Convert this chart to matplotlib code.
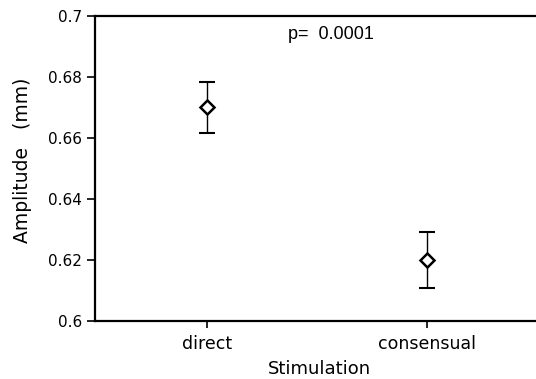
import matplotlib
matplotlib.use("Agg")
import matplotlib.pyplot as plt

# values
groups = ["direct", "consensual"]
means = [0.670, 0.620]
errs = [0.0084, 0.0093]
yticks = [0.6, 0.62, 0.64, 0.66, 0.68, 0.7]
ytick_labels = ["0.6", "0.62", "0.64", "0.66", "0.68", "0.7"]

# the reference labels are widely spaced, DejaVu is the wider face
plt.rcParams['font.family'] = ['DejaVu Sans']

fig = plt.figure(figsize=(5.36, 3.79), dpi=100)
ax = fig.add_axes([95/536, 1 - 321/379, 441/536, 305/379])

xpos = [1, 2]
ax.errorbar(xpos, means, yerr=errs, fmt='none', ecolor='black',
            elinewidth=1.0, capsize=5.5, capthick=1.5, zorder=2)
ax.plot(xpos, means, linestyle='none', marker='D', markersize=7.5,
        markerfacecolor='white', markeredgecolor='black',
        markeredgewidth=1.8, zorder=3)

ax.set_xlim(0.49, 2.495)
ax.set_ylim(0.6, 0.7)
ax.set_xticks(xpos)
ax.set_xticklabels(groups, fontsize=12.5)
ax.set_yticks(yticks)
ax.set_yticklabels(ytick_labels, fontsize=11)

for side in ['left', 'bottom', 'top']:
    ax.spines[side].set_linewidth(1.6)
ax.spines['right'].set_visible(False)

ax.tick_params(axis='y', length=6, width=1.2, pad=3.5)
ax.tick_params(axis='x', length=5, width=1.2, pad=5)

ax.set_xlabel("Stimulation", fontsize=13)
ax.xaxis.set_label_coords(0.51, -0.128)
ax.set_ylabel("Amplitude   (mm)", fontsize=13.5)
ax.yaxis.set_label_coords(-0.143, 0.528)

ax.text(0.535, 0.938, "p=  0.0001", transform=ax.transAxes,
        ha='center', va='center', fontsize=13, family='Liberation Sans')

fig.savefig("out.png", dpi=100)
